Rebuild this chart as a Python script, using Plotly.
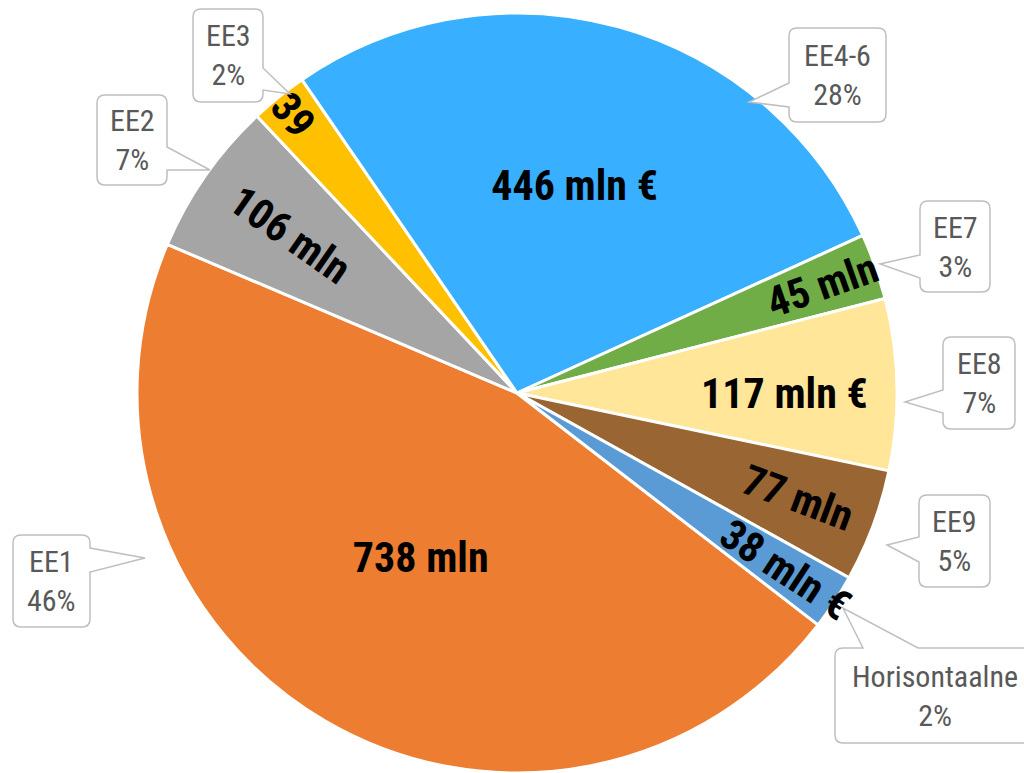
import plotly.graph_objects as go

labels = ["EE1", "EE2", "EE3", "EE4-6", "EE7", "EE8", "EE9", "Horisontaalne"]
values = [738, 106, 39, 446, 45, 117, 77, 38]
inside_text = ["738 mln", "106 mln", "39", "446 mln €", "45 mln", "117 mln €", "77 mln", "38 mln €"]
colors = ["#ED7D31", "#A5A5A5", "#FFC000", "#38B0FF", "#70AD47", "#FFE699", "#996633", "#5B9BD5"]

# small slices get their value label along the radius
radial_labels = ["EE2", "EE3", "EE7", "EE9", "Horisontaalne"]

# callout bubbles in px: box (x0, y0, x1, y1), tip, side of the pointer, pointer base
callouts = {
    "EE1": ((13, 535, 90, 627), (145, 558), "right", (548, 572)),
    "EE2": ((97, 95, 167, 185), (210, 170), "right", (147, 170)),
    "EE3": ((193, 9, 263, 102), (290, 94), "right", (68, 90)),
    "EE4-6": ((789, 28, 886, 122), (749, 102), "left", (83, 107)),
    "EE7": ((920, 201, 990, 292), (880, 264), "left", (255, 278)),
    "EE8": ((943, 337, 1015, 429), (905, 402), "left", (390, 413)),
    "EE9": ((919, 495, 990, 587), (887, 545), "left", (537, 562)),
    "Horisontaalne": ((835, 648, 1040, 743), (843, 608), "top", (863, 918)),
}

W, H = 1024, 773
total = sum(values)
FONT = "Roboto Condensed, Liberation Sans Narrow, Roboto"


def px(x, y):
    return f"{x / W:.5f},{1 - y / H:.5f}"


def bubble_path(box, tip, side, base, r=8):
    """Rounded box with a wedge pointing at the slice."""
    x0, y0, x1, y1 = box
    tx, ty = tip
    b0, b1 = base
    p = f"M{px(x0 + r, y0)}"
    if side == "top":
        p += f" L{px(b0, y0)} L{px(tx, ty)} L{px(b1, y0)}"
    p += f" L{px(x1 - r, y0)} Q{px(x1, y0)} {px(x1, y0 + r)}"
    if side == "right":
        p += f" L{px(x1, b0)} L{px(tx, ty)} L{px(x1, b1)}"
    p += f" L{px(x1, y1 - r)} Q{px(x1, y1)} {px(x1 - r, y1)}"
    if side == "bottom":
        p += f" L{px(b1, y1)} L{px(tx, ty)} L{px(b0, y1)}"
    p += f" L{px(x0 + r, y1)} Q{px(x0, y1)} {px(x0, y1 - r)}"
    if side == "left":
        p += f" L{px(x0, b1)} L{px(tx, ty)} L{px(x0, b0)}"
    p += f" L{px(x0, y0 + r)} Q{px(x0, y0)} {px(x0 + r, y0)} Z"
    return p


pie_common = dict(
    labels=labels,
    values=values,
    sort=False,
    direction="clockwise",
    rotation=127.6,
    textinfo="text",
    textposition="inside",
    textfont=dict(family=FONT, size=42, color="black", weight="bold"),
    domain=dict(x=[137 / W, 897 / W], y=[0, 1 - 13 / H]),
)

fig = go.Figure()
fig.add_trace(
    go.Pie(
        text=[t if l not in radial_labels else "" for l, t in zip(labels, inside_text)],
        insidetextorientation="horizontal",
        marker=dict(colors=colors, line=dict(color="white", width=3)),
        hoverinfo="label+value+percent",
        **pie_common,
    )
)
fig.add_trace(
    go.Pie(
        text=[t if l in radial_labels else "" for l, t in zip(labels, inside_text)],
        insidetextorientation="radial",
        marker=dict(colors=["rgba(0,0,0,0)"] * len(labels), line=dict(width=0)),
        hoverinfo="skip",
        **pie_common,
    )
)

for lab, val in zip(labels, values):
    box, tip, side, base = callouts[lab]
    fig.add_shape(
        type="path",
        xref="paper",
        yref="paper",
        path=bubble_path(box, tip, side, base),
        line=dict(color="#BFBFBF", width=1.5),
        fillcolor="white",
        layer="above",
    )
    fig.add_annotation(
        x=(box[0] + min(box[2], 1034)) / 2 / W,
        y=1 - (box[1] + box[3]) / 2 / H,
        xref="paper",
        yref="paper",
        text=f"{lab}<br>{round(val / total * 100)}%",
        showarrow=False,
        font=dict(family=FONT, size=30, color="#595959"),
        align="center",
        xanchor="center",
        yanchor="middle",
    )

fig.update_layout(
    width=W,
    height=H,
    margin=dict(l=0, r=0, t=0, b=0),
    showlegend=False,
    paper_bgcolor="white",
    uniformtext=dict(minsize=42, mode="show"),
)

fig.write_html(
    "out.html",
    config={"displayModeBar": False},
    post_script="document.body.style.margin='0';",
)
